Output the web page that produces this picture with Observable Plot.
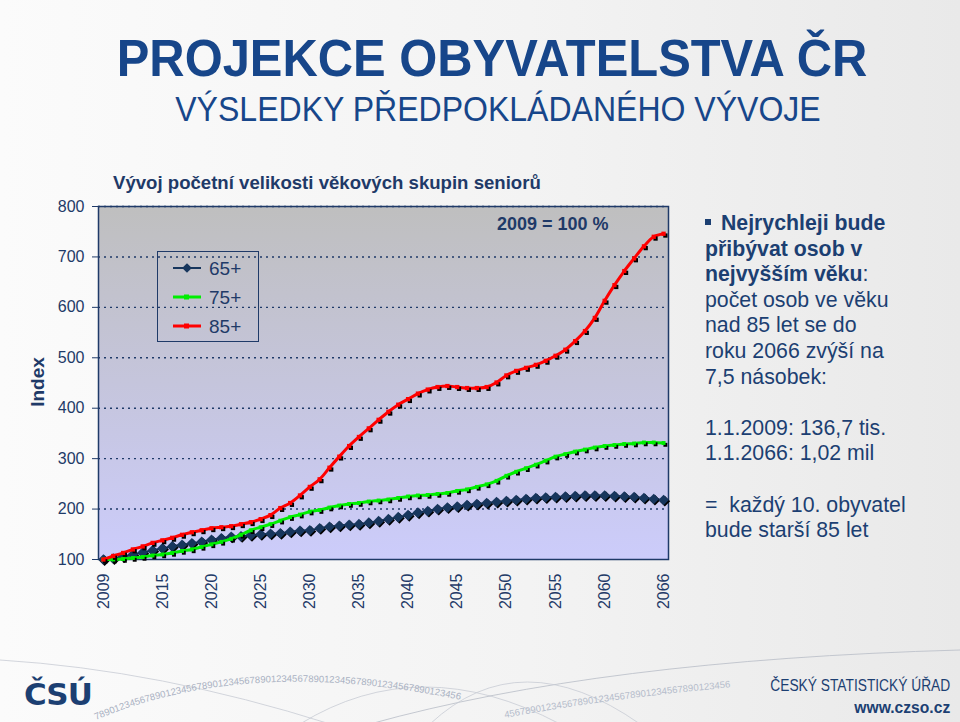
<!DOCTYPE html>
<html><head><meta charset="utf-8">
<script src="https://cdn.jsdelivr.net/npm/d3@7"></script>
<script src="https://cdn.jsdelivr.net/npm/@observablehq/plot@0.6"></script>
<style>
html,body{margin:0;padding:0}
body{width:960px;height:722px;position:relative;overflow:hidden;
 background:linear-gradient(to right,#fbfbfb 0%,#f3f3f3 55%,#e9e9e9 100%);
 font-family:"Liberation Sans",Arial,sans-serif}
.abs{position:absolute;white-space:nowrap}
#title{left:0;width:984px;top:28px;text-align:center;font-weight:bold;font-size:52px;color:#17468a;line-height:60px;transform:scaleX(0.94)}
#subtitle{left:0;width:996px;top:89px;text-align:center;font-size:35px;color:#17468a;line-height:40px;transform:scaleX(0.915)}
#ctitle{left:113px;top:172px;font-weight:bold;font-size:18.6px;color:#1f3a68}
#ylab{left:38px;top:382px;transform:translate(-50%,-50%) rotate(-90deg);font-weight:bold;font-size:19px;color:#1f3a68}
#base{left:497px;top:214px;font-weight:bold;font-size:18px;color:#1f3a68}
#note{left:705px;top:211px;font-size:21.3px;line-height:25.6px;color:#1c3f72}
#bul{display:inline-block;width:6px;height:6px;background:#1c3f72;vertical-align:5px;margin-right:4px}
#chart{left:0;top:195px}
#legend{left:157px;top:251px}
#footer1{right:10px;top:677px;font-size:16px;color:#1c3f72;transform:scaleX(0.86);transform-origin:right}
#footer2{right:10px;top:698px;font-weight:bold;font-size:17px;color:#1c3f72;transform:scaleX(0.92);transform-origin:right}
#logo{left:24px;top:676px;font-family:"DejaVu Sans",sans-serif;font-weight:bold;font-size:31px;color:#1c3f72;letter-spacing:-1px}
#decor{left:0;top:640px}
</style></head>
<body>
<svg id="decor" class="abs" width="960" height="82">
  <defs>
    <path id="pa" d="M 96 80 Q 250 14 470 62"/>
    <path id="pb" d="M 505 78 Q 620 56 770 44"/>
  </defs>
  <path d="M 0 20 Q 160 30 330 84" fill="none" stroke="#c8ccd4" stroke-width="0.8"/>
  <path d="M 300 84 Q 420 10 560 84" fill="none" stroke="#c8ccd4" stroke-width="0.8"/>
  <path d="M 370 84 Q 600 20 960 10" fill="none" stroke="#b8bcc6" stroke-width="0.8"/>
  <path d="M 430 84 Q 520 0 640 84" fill="none" stroke="#c8ccd4" stroke-width="0.8"/>
  <text font-size="9.5" fill="#a9b1c2"><textPath href="#pa">7890123456789012345678901234567890123456789012345678901234567890123456</textPath></text>
  <text font-size="9.5" fill="#b5bccb"><textPath href="#pb">4567890123456789012345678901234567890123456</textPath></text>
</svg>
<div id="title" class="abs">PROJEKCE OBYVATELSTVA ČR</div>
<div id="subtitle" class="abs">VÝSLEDKY PŘEDPOKLÁDANÉHO VÝVOJE</div>
<div id="ctitle" class="abs">Vývoj početní velikosti věkových skupin seniorů</div>
<div id="ylab" class="abs">Index</div>
<div id="chart" class="abs"></div>
<div id="base" class="abs">2009 = 100 %</div>
<svg id="legend" class="abs" width="102" height="91"></svg>
<div id="note" class="abs"><span id="bul"></span> <b>Nejrychleji bude</b><br><b>přibývat osob v</b><br><b>nejvyšším věku</b>:<br>počet osob ve věku<br>nad 85 let se do<br>roku 2066 zvýší na<br>7,5 násobek:<br><br>1.1.2009: 136,7 tis.<br>1.1.2066: 1,02 mil<br><br>=&nbsp; každý 10. obyvatel<br>bude starší 85 let</div>
<div id="logo" class="abs">ČSÚ</div>
<div id="footer1" class="abs">ČESKÝ STATISTICKÝ ÚŘAD</div>
<div id="footer2" class="abs">www.czso.cz</div>
<script>
const years = [2009,2010,2011,2012,2013,2014,2015,2016,2017,2018,2019,2020,2021,2022,2023,2024,2025,2026,2027,2028,2029,2030,2031,2032,2033,2034,2035,2036,2037,2038,2039,2040,2041,2042,2043,2044,2045,2046,2047,2048,2049,2050,2051,2052,2053,2054,2055,2056,2057,2058,2059,2060,2061,2062,2063,2064,2065,2066];
const xTickYears = [2009,2015,2020,2025,2030,2035,2040,2045,2050,2055,2060,2066];
const yTicks = [100,200,300,400,500,600,700,800];
const seriesNames = ["65+","75+","85+"];
const seriesColors = ["#17365d","#00ee00","#ff0000"];
const idx65 = [100,102,106,110,114,118,122,126,129,132,135,139,142,145,146,148,150,151,152,155,157,158,162,165,167,169,170,173,176,180,184,188,193,196,200,203,205,208,210,212,214,216,218,220,222,223,224,225,226,227,227,227,226,225,224,222,220,218];
const idx75 = [100,100,101,103,105,108,110,113,117,120,125,130,135,141,149,158,164,170,177,184,189,195,198,203,207,210,212,215,217,219,222,225,227,228,230,232,236,239,244,249,256,266,274,281,288,296,304,309,314,318,322,325,327,329,330,332,332,331];
const idx85 = [100,107,113,120,126,133,138,143,149,154,158,162,164,166,170,174,180,188,202,212,227,244,259,282,304,325,343,360,377,393,407,418,429,437,442,444,442,440,440,442,451,465,474,480,486,494,504,516,533,553,579,613,644,672,697,721,740,746];

const seriesValues = [idx65, idx75, idx85];
const tables = seriesValues.map((vals, i) => years.map((y, j) => ({year: y, value: vals[j], series: seriesNames[i]})));
const navy = "#1f3a68";

const marks = [
  Plot.frame({fill: "url(#plotbg)", stroke: null}),
  Plot.ruleY(yTicks.filter(v => v > 100), {stroke: navy, strokeDasharray: "2,4", strokeWidth: 1.4}),
  Plot.frame({stroke: navy, strokeWidth: 1.5})
];
marks.push(
  Plot.line(tables[0], {x: "year", y: "value", stroke: seriesColors[0], strokeWidth: 2, curve: "catmull-rom"}),
  Plot.dot(tables[0], {x: "year", y: "value", symbol: "diamond2", r: 4.8, fill: "#000", stroke: "none", dx: 1.2, dy: 1.2}),
  Plot.dot(tables[0], {x: "year", y: "value", symbol: "diamond2", r: 4.8, fill: seriesColors[0], stroke: "none"})
);
marks.push(
  Plot.line(tables[1], {x: "year", y: "value", stroke: seriesColors[1], strokeWidth: 3, curve: "catmull-rom"}),
  Plot.dot(tables[1], {x: "year", y: "value", symbol: "square", r: 2.2, fill: "#000", stroke: "none", dx: 1.8, dy: 1.8}),
  Plot.dot(tables[1], {x: "year", y: "value", symbol: "square", r: 2.2, fill: seriesColors[1], stroke: "none"})
);
marks.push(
  Plot.line(tables[2], {x: "year", y: "value", stroke: seriesColors[2], strokeWidth: 3, curve: "catmull-rom"}),
  Plot.dot(tables[2], {x: "year", y: "value", symbol: "square", r: 2.4, fill: "#000", stroke: "none", dx: 1.8, dy: 1.8}),
  Plot.dot(tables[2], {x: "year", y: "value", symbol: "square", r: 2.4, fill: seriesColors[2], stroke: "none"})
);

const plot = Plot.plot({
  width: 680, height: 430,
  marginLeft: 98, marginRight: 12, marginTop: 11, marginBottom: 66,
  x: {domain: [2008.5, 2066.5], ticks: xTickYears, tickFormat: d => String(d), tickRotate: -90, tickSize: 0, tickPadding: 14, label: null},
  y: {domain: [100, 800], ticks: yTicks, tickSize: 6, tickPadding: 8, label: null},
  style: {fontFamily: "'Liberation Sans', Arial, sans-serif", fontSize: "16px", color: navy, background: "transparent", overflow: "visible"},
  marks
});
d3.select(plot).insert("defs", ":first-child").html(
  '<linearGradient id="plotbg" x1="0" y1="0" x2="0" y2="1">' +
  '<stop offset="0" stop-color="#bfbfbf"/><stop offset="0.5" stop-color="#c5c5dc"/><stop offset="1" stop-color="#ccccfb"/></linearGradient>');
document.getElementById("chart").appendChild(plot);

const lg = d3.select("#legend");
lg.append("rect").attr("x", 0.5).attr("y", 0.5).attr("width", 101).attr("height", 90).attr("fill", "none").attr("stroke", navy).attr("stroke-width", 1);
seriesNames.forEach((name, i) => {
  const cy = 17 + i * 29;
  lg.append("line").attr("x1", 16).attr("x2", 44).attr("y1", cy).attr("y2", cy).attr("stroke", seriesColors[i]).attr("stroke-width", i === 0 ? 2 : 3);
  if (i === 0) {
    lg.append("path").attr("d", d3.symbol(d3.symbolDiamond2, 60)()).attr("transform", `translate(30,${cy})`).attr("fill", seriesColors[0]);
  } else {
    lg.append("rect").attr("x", 27).attr("y", cy - 2.5).attr("width", 5).attr("height", 5).attr("fill", seriesColors[i]);
  }
  lg.append("text").attr("x", 52).attr("y", cy).attr("dy", "0.36em").attr("font-size", 19).attr("fill", navy).attr("font-family", "'Liberation Sans', Arial, sans-serif").text(name);
});
</script>
</body></html>
